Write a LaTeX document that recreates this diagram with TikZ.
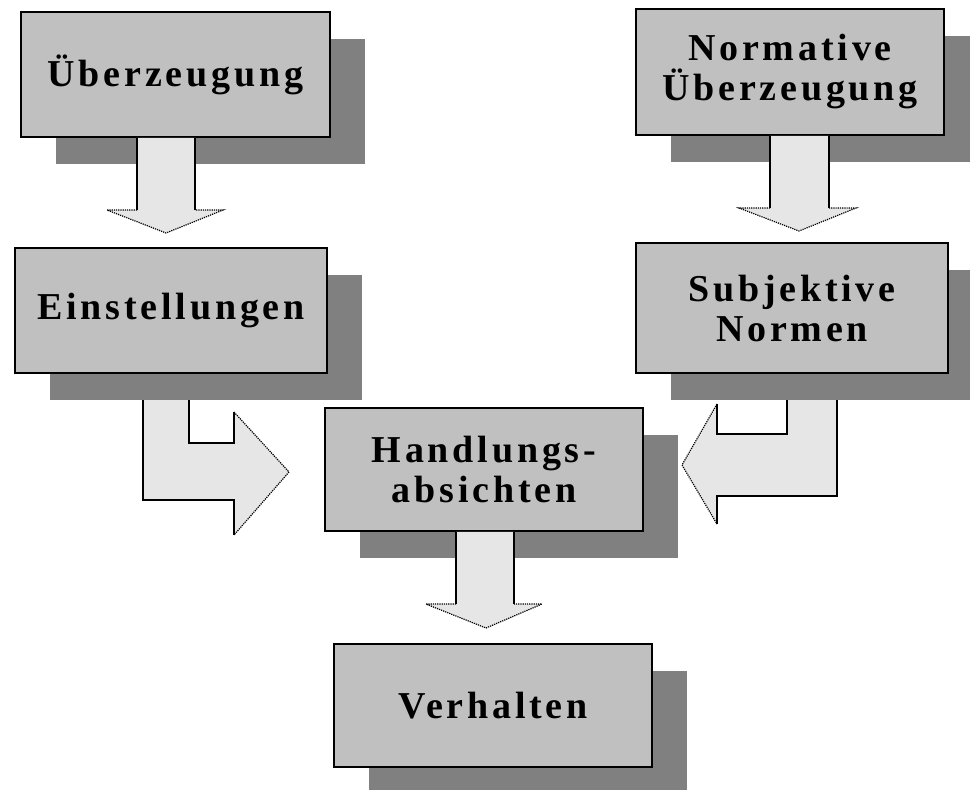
\documentclass[tikz,border=0pt]{standalone}
\usepackage{fontspec}
\newfontfamily\boxfont[LetterSpace=10]{Liberation Serif}
\usetikzlibrary{shadows}
\definecolor{boxfill}{HTML}{C0C0C0}
\definecolor{shadowgray}{HTML}{808080}
\definecolor{arrowfill}{HTML}{E6E6E6}
\tikzset{
  box/.style={draw, line width=1.6pt, fill=boxfill, inner sep=0pt, align=center,
    font=\boxfont\bfseries\fontsize{38}{40}\selectfont,
    general shadow={fill=shadowgray, shadow xshift=35pt, shadow yshift=-27pt}},
  shaftline/.style={line width=1.5pt, line join=miter},
  headline/.style={line width=1.2pt, densely dotted},
  arrowbody/.style={fill=arrowfill}
}
\begin{document}
\begin{tikzpicture}[x=1pt,y=-1pt]
\useasboundingbox (0,0) rectangle (970,790);
\fill[white] (0,0) rectangle (970,790);

% boxes
\node[box, minimum width=309pt, minimum height=125pt] (b1) at (175.5,74.5) {Überzeugung};
\node[box, minimum width=308pt, minimum height=126pt] (b2) at (790,72) {Normative\\Überzeugung};
\node[box, minimum width=312pt, minimum height=125pt] (b3) at (171,310.5) {Einstellungen};
\node[box, minimum width=312pt, minimum height=130pt] (b4) at (792,308) {Subjektive\\Normen};
\node[box, minimum width=318pt, minimum height=123pt] (b5) at (484,469.5) {Handlungs-\\absichten};
\node[box, minimum width=318pt, minimum height=123pt] (b6) at (493,705.5) {Verhalten};

% down arrow b1 -> b3
\path[arrowbody] (137,0 |- b1.south) -- (137,210) -- (107,210) -- (166,233) -- (223,210) -- (195,210) -- (195,0 |- b1.south) -- cycle;
\draw[shaftline] (137,0 |- b1.south) -- (137,210) (195,210) -- (195,0 |- b1.south);
\draw[headline] (137,210) -- (107,210) -- (166,233) -- (223,210) -- (195,210);

% down arrow b2 -> b4
\path[arrowbody] (770,0 |- b2.south) -- (770,208) -- (739,208) -- (799,231) -- (856,208) -- (829,208) -- (829,0 |- b2.south) -- cycle;
\draw[shaftline] (770,0 |- b2.south) -- (770,208) (829,208) -- (829,0 |- b2.south);
\draw[headline] (770,208) -- (739,208) -- (799,231) -- (856,208) -- (829,208);

% down arrow b5 -> b6
\path[arrowbody] (456,0 |- b5.south) -- (456,604) -- (426,604) -- (486,628) -- (542,604) -- (514,604) -- (514,0 |- b5.south) -- cycle;
\draw[shaftline] (456,0 |- b5.south) -- (456,604) (514,604) -- (514,0 |- b5.south);
\draw[headline] (456,604) -- (426,604) -- (486,628) -- (542,604) -- (514,604);

% bent arrow b3 -> b5
\coordinate (l0) at (143,400);
\coordinate (l1) at (189,400);
\path[arrowbody] (l0) -- (143,500) -- (234,500) -- (234,535) -- (289,472) -- (234,412) -- (234,443) -- (189,443) -- (l1) -- cycle;
\draw[shaftline] (l1) -- (189,443) -- (234,443) -- (234,412);
\draw[shaftline] (234,535) -- (234,500) -- (143,500) -- (l0);
\draw[headline] (234,412) -- (289,472) -- (234,535);

% bent arrow b4 -> b5
\coordinate (r0) at (837,400);
\coordinate (r1) at (787,400);
\path[arrowbody] (r0) -- (837,496) -- (717,496) -- (717,524) -- (682,465) -- (717,404) -- (717,434) -- (787,434) -- (r1) -- cycle;
\draw[shaftline] (r1) -- (787,434) -- (717,434) -- (717,404);
\draw[shaftline] (717,524) -- (717,496) -- (837,496) -- (r0);
\draw[headline] (717,404) -- (682,465) -- (717,524);
\end{tikzpicture}
\end{document}
